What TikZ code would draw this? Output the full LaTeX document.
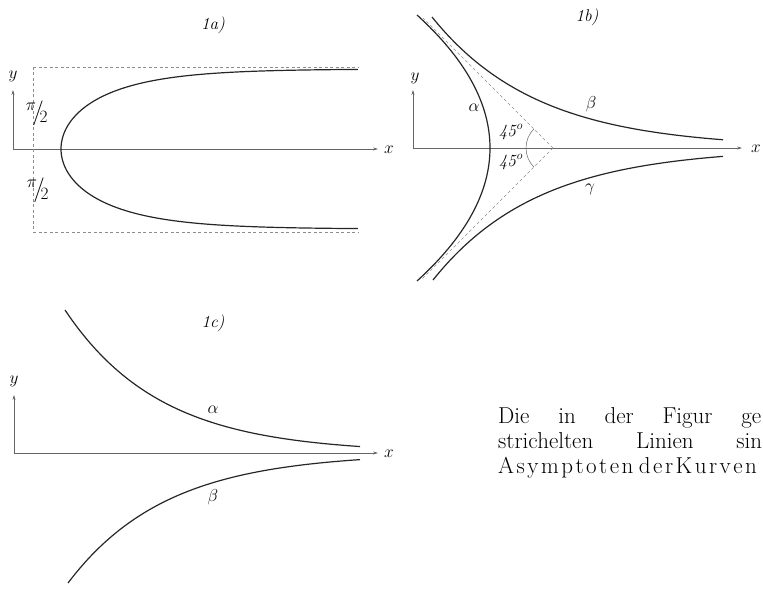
\documentclass[tikz,border=0pt]{standalone}
\usepackage{fontspec}
\usetikzlibrary{arrows.meta}
\makeatletter
\newcommand\sperr[1]{\@tfor\sperrc:=#1\do{\sperrc\kern2.5pt}}
\makeatother
\begin{document}
\begin{tikzpicture}[x=1pt,y=-1pt,
  curve/.style={line width=1.2pt,black!85},
  asym/.style={black!45,line width=0.5pt,dash pattern=on 3pt off 2.5pt},
  axis/.style={black!60,line width=0.6pt,-{Stealth[length=5pt,width=3pt]}},
  lbl/.style={inner sep=0pt,font=\fontsize{16}{16}\selectfont},
  body/.style={anchor=base west,inner sep=0pt,font=\fontsize{23}{25}\selectfont}]
  \useasboundingbox (0,0) rectangle (763,593);
  % 1a
  \node[lbl,font=\fontsize{17}{17}\selectfont] (capA) at (213,25) {\textit{1a)}};
  \draw[axis] (13,149) -- (378,149);
  \draw[axis] (13,149) -- (13,90);
  \node[lbl] (xA) at (389,150) {$x$};
  \node[lbl] (yA) at (13,76) {$y$};
  \draw[asym] (33,67) -- (358,67);
  \draw[asym] (33,232) -- (358,232);
  \draw[asym] (33,67) -- (33,232);
  \node[lbl,font=\fontsize{25}{25}\selectfont] (piA) at (37,113) {$^{\pi}\!/\!_{2}$};
  \node[lbl,font=\fontsize{25}{25}\selectfont] (piB) at (38,190) {$^{\pi}\!/\!_{2}$};
  \draw[curve] plot[domain=-17.23:17.23,samples=121]
    ({61+\x*\x},{149+sign(\x)*80*acos(exp(-\x*\x/62))/90});
  % 1b
  \node[lbl,font=\fontsize{17}{17}\selectfont] (capB) at (587,17) {\textit{1b)}};
  \draw[axis] (413,148) -- (742,148);
  \draw[axis] (413,148) -- (413,90);
  \node[lbl] (xB) at (756,149) {$x$};
  \node[lbl] (yB) at (415,78) {$y$};
  \coordinate (apex) at (553,148);
  \draw[asym] (apex) -- (423,18);
  \draw[asym] (apex) -- (421,280);
  \draw[black!60,line width=0.5pt] (apex) ++(135:27) arc[start angle=135,end angle=225,radius=27];
  \draw[curve] (417,15) .. controls (465.7,59.3) and (490,103.7) .. (490,148)
    .. controls (490,192.3) and (465.7,236.7) .. (417,281);
  \draw[curve] plot[domain=432:723,samples=80] (\x,{148-131*exp(-0.0095*(\x-432))});
  \draw[curve] plot[domain=433:723,samples=80] (\x,{148+132*exp(-0.0095*(\x-433))});
  \node[lbl,font=\fontsize{19}{19}\selectfont] (alB) at (474,108) {$\alpha$};
  \node[lbl,font=\fontsize{19}{19}\selectfont] (beB) at (591,104) {$\beta$};
  \node[lbl,font=\fontsize{19}{19}\selectfont] (gaB) at (590,189) {$\gamma$};
  \node[lbl,font=\fontsize{17}{17}\selectfont] (anU) at (511,132) {\textit{45}$^o$};
  \node[lbl,font=\fontsize{17}{17}\selectfont] (anL) at (511,162) {\textit{45}$^o$};
  % 1c
  \node[lbl,font=\fontsize{17}{17}\selectfont] (capC) at (213,323) {\textit{1c)}};
  \draw[axis] (14,453) -- (378,453);
  \draw[axis] (14,453) -- (14,395);
  \node[lbl] (xC) at (389,454) {$x$};
  \node[lbl] (yC) at (14,381) {$y$};
  \draw[curve] plot[domain=65:360,samples=80] (\x,{453-143*exp(-0.0105*(\x-65))});
  \draw[curve] plot[domain=68:360,samples=80] (\x,{453+130*exp(-0.0102*(\x-68))});
  \node[lbl,font=\fontsize{18}{18}\selectfont] (alC) at (213,410) {$\alpha$};
  \node[lbl,font=\fontsize{18}{18}\selectfont] (beC) at (213,497) {$\beta$};
  % Text
  \node[body] (ln1) at (498,423) {\makebox[263pt][s]{Die in der Figur ge}};
  \node[body] (ln2) at (498,448) {\makebox[264pt][s]{strichelten Linien sin}};
  \node[body] (ln3) at (498,473) {\sperr{Asymptoten}\kern3pt\sperr{derKurven}};
\end{tikzpicture}
\end{document}
